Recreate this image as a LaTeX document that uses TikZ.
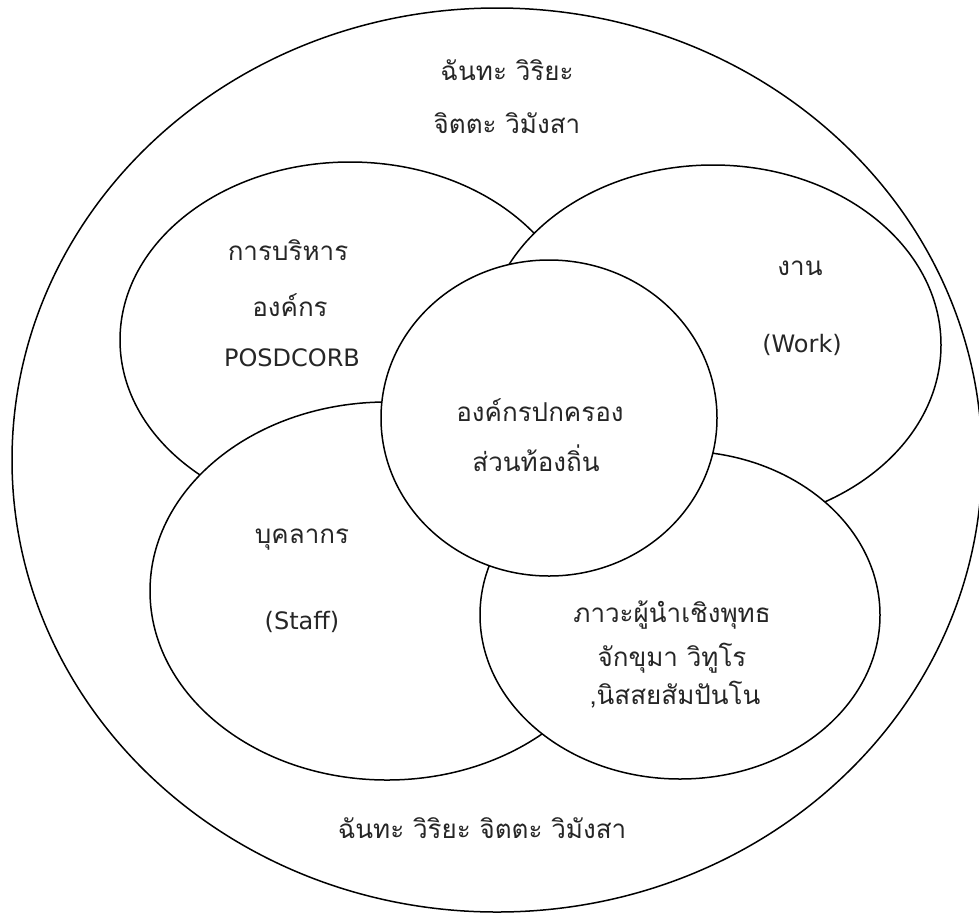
\documentclass[tikz,border=0pt]{standalone}
\usepackage{fontspec}
\newfontfamily\thaifont[Script=Thai]{Loma}
\newfontfamily\latinfont{DejaVu Sans}
\usetikzlibrary{shapes.geometric}
\tikzset{
  ring/.style={ellipse, draw=black, line width=1.5pt, fill=white, inner sep=0pt},
  lbl/.style={font=\thaifont\fontsize{26}{30}\selectfont, text=black!85, inner sep=0pt, anchor=center},
  lat/.style={font=\latinfont\fontsize{24}{28}\selectfont, text=black!85, inner sep=0pt, anchor=center}
}
\begin{document}
\begin{tikzpicture}[x=1pt,y=-1pt]
\useasboundingbox (0,0) rectangle (979,919);
\clip (0,0) rectangle (979,919);
\fill[white] (0,0) rectangle (979,919);
\node[ring, minimum width=970pt, minimum height=904pt] (outer) at (497,460) {};
\node[ring, minimum width=460pt, minimum height=356pt] (mgmt) at (350,340) {};
\node[ring, minimum width=456pt, minimum height=360pt] (work) at (713,345) {};
\node[ring, minimum width=474pt, minimum height=378pt] (staff) at (387,591) {};
\node[ring, minimum width=400pt, minimum height=328pt] (lead) at (680,615) {};
\node[ring, minimum width=336pt, minimum height=316pt] (core) at (549,418) {};
% labels
\node[lbl] (t1) at (507,70) {ฉันทะ วิริยะ};
\node[lbl] (t2) at (507,123) {จิตตะ วิมังสา};
\node[lbl] (m1) at (288,250) {การบริหาร};
\node[lbl] (m2) at (290,305) {องค์กร};
\node[lat] (m3) at (292,358) {POSDCORB};
\node[lbl] (w1) at (800,268) {งาน};
\node[lat] (w2) at (802,345) {(Work)};
\node[lbl] (c1) at (540,410) {องค์กรปกครอง};
\node[lbl] (c2) at (536,458) {ส่วนท้องถิ่น};
\node[lbl] (s1) at (302,540) {บุคลากร};
\node[lat] (s2) at (302,622) {(Staff)};
\node[lbl] (l1) at (672,615) {ภาวะผู้นำเชิงพุทธ};
\node[lbl] (l2) at (672,658) {จักขุมา วิทูโร};
\node[lbl] (l3) at (675,695) {,นิสสยสัมปันโน};
\node[lbl] (b1) at (482,828) {ฉันทะ วิริยะ จิตตะ วิมังสา};
\end{tikzpicture}
\end{document}
